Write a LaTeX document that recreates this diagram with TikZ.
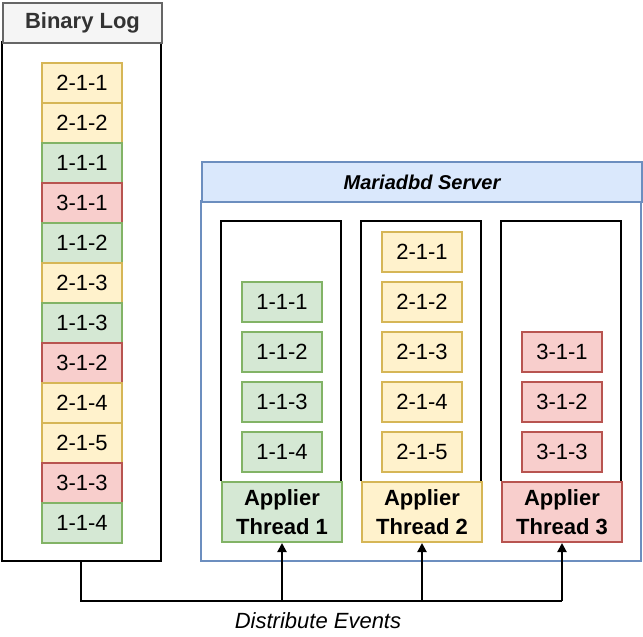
\documentclass[tikz,border=0pt]{standalone}
\usepackage{fontspec}
\setmainfont{Liberation Sans}
\usetikzlibrary{arrows.meta}
\definecolor{yf}{HTML}{FFF2CC}\definecolor{yd}{HTML}{D6B656}
\definecolor{gf}{HTML}{D5E8D4}\definecolor{gd}{HTML}{82B366}
\definecolor{rf}{HTML}{F8CECC}\definecolor{rd}{HTML}{B85450}
\definecolor{bf}{HTML}{DAE8FC}\definecolor{bd}{HTML}{6C8EBF}
\begin{document}
\begin{tikzpicture}[x=1pt,y=-1pt,
 it/.style={draw,line width=2pt,minimum width=80pt,minimum height=40pt,inner sep=0pt,font=\fontsize{22}{26}\selectfont,anchor=north west},
 Y/.style={it,fill=yf,draw=yd},G/.style={it,fill=gf,draw=gd},R/.style={it,fill=rf,draw=rd},
 ap/.style={draw,line width=2pt,minimum width=120pt,minimum height=60pt,inner sep=0pt,font=\fontsize{22}{29}\selectfont\bfseries,align=center,anchor=north west},
 ar/.style={line width=2pt,-{Triangle[length=9pt,width=9pt]}}]
\useasboundingbox (0,0) rectangle (643,637);
\fill[white] (0,0) rectangle (643,637);
% binary log
\draw[line width=2pt] (2,42) rectangle (161,561);
\node[draw=black!60,fill=black!4,line width=2pt,minimum width=159pt,minimum height=40pt,inner sep=0pt,anchor=north west,font=\fontsize{22}{26}\selectfont\bfseries,text=black!80] (bl) at (2,2) {Binary Log};
\coordinate (lb) at (81,561);
\foreach \s/\t [count=\i from 0] in {Y/2-1-1,Y/2-1-2,G/1-1-1,R/3-1-1,G/1-1-2,Y/2-1-3,G/1-1-3,R/3-1-2,Y/2-1-4,Y/2-1-5,R/3-1-3,G/1-1-4}
  \node[\s] (l\i) at (41,62+40*\i) {\t};
% server
\draw[bd,line width=2pt] (201,201) rectangle (641,561);
\node[draw=bd,fill=bf,line width=2pt,minimum width=440pt,minimum height=40pt,inner sep=0pt,anchor=north west,font=\fontsize{20}{24}\selectfont\bfseries\itshape] (sv) at (201,161) {Mariadbd Server};
\foreach \x in {221,361,501} \draw[line width=2pt] (\x,481) -- (\x,221) -- (\x+120,221) -- (\x+120,481);
\foreach \t [count=\i from 0] in {1-1-1,1-1-2,1-1-3,1-1-4} \node[G] (a\i) at (241,281+50*\i) {\t};
\foreach \t [count=\i from 0] in {2-1-1,2-1-2,2-1-3,2-1-4,2-1-5} \node[Y] (b\i) at (381,231+50*\i) {\t};
\foreach \t [count=\i from 0] in {3-1-1,3-1-2,3-1-3} \node[R] (c\i) at (521,331+50*\i) {\t};
\node[ap,fill=gf,draw=gd] (t1) at (221,481) {Applier\\Thread 1};
\node[ap,fill=yf,draw=yd] (t2) at (361,481) {Applier\\Thread 2};
\node[ap,fill=rf,draw=rd] (t3) at (501,481) {Applier\\Thread 3};
% distribution
\coordinate (j) at (81,601);
\draw[line width=2pt] (lb) -- (j) -- (t3.south|-j);
\draw[ar] (t1.south|-j) -- (t1.south);
\draw[ar] (t2.south|-j) -- (t2.south);
\draw[ar] (t3.south|-j) -- (t3.south);
\node[font=\fontsize{22}{26}\selectfont\itshape] (de) at (318,621) {Distribute Events};
\end{tikzpicture}
\end{document}
